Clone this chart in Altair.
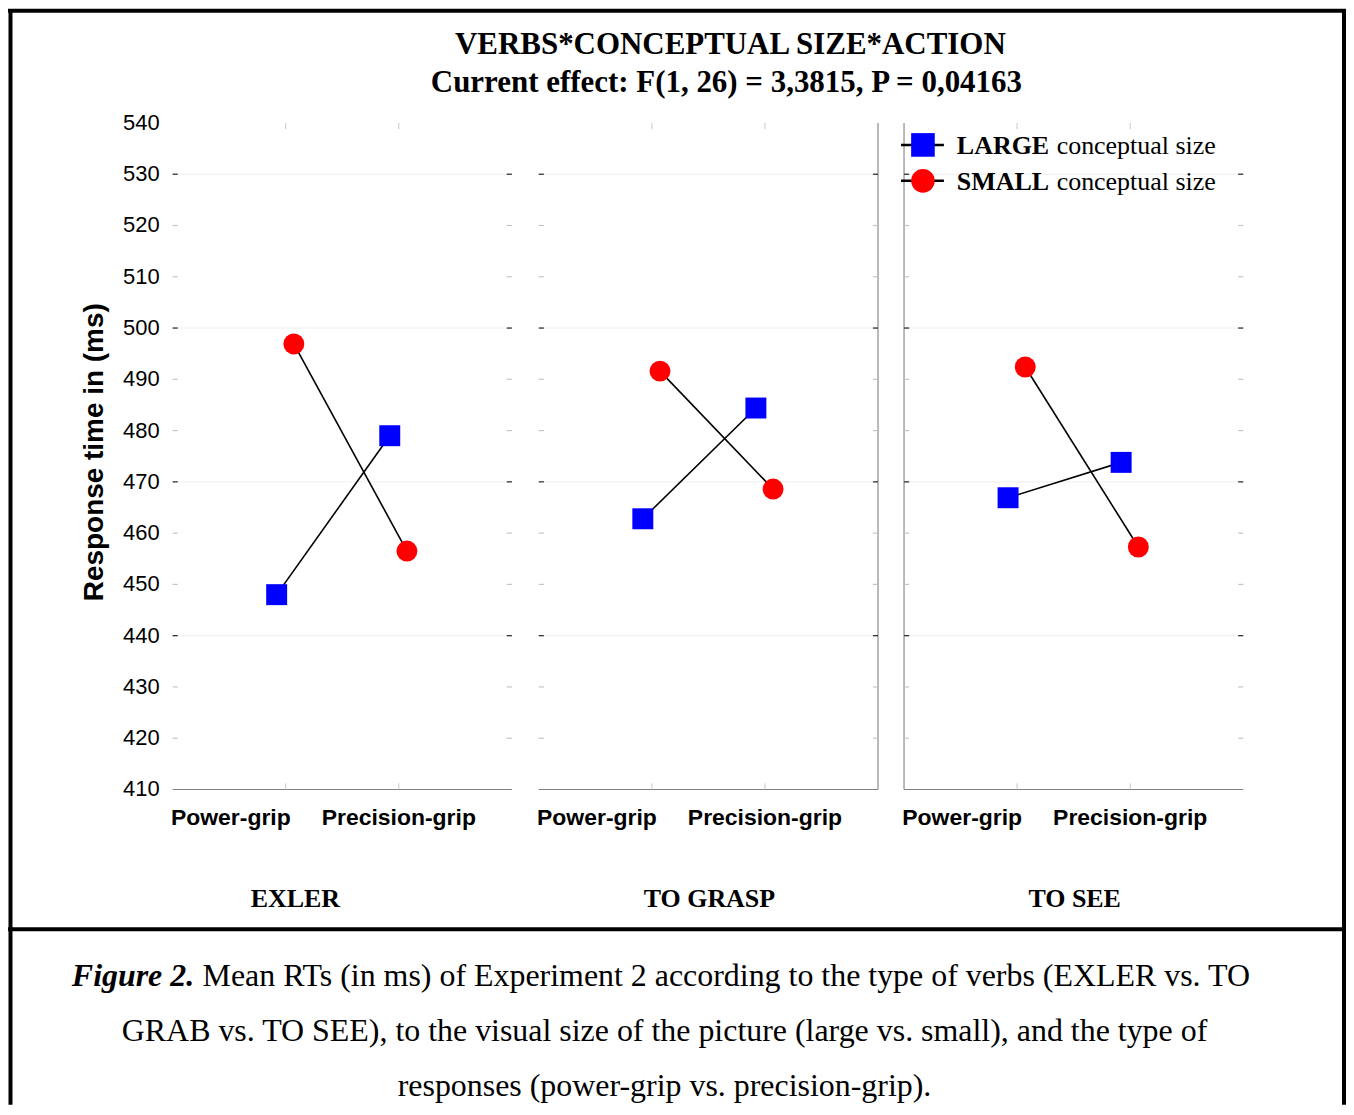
import altair as alt
import pandas as pd

# ---------------- data ----------------
verbs = ["EXLER", "TO GRASP", "TO SEE"]
responses = ["Power-grip", "Precision-grip"]
size_levels = ["LARGE", "SMALL"]
large_rt = [[448.0, 479.0], [462.8, 484.4], [466.9, 473.8]]   # per verb: power, precision
small_rt = [[496.9, 456.5], [491.6, 468.6], [492.4, 457.3]]
y_ticks = [410, 420, 430, 440, 450, 460, 470, 480, 490, 500, 510, 520, 530, 540]
major_ticks = [440, 470, 500, 530]
minor_ticks = [420, 430, 450, 460, 480, 490, 510, 520]
title_lines = ["VERBS*CONCEPTUAL SIZE*ACTION",
               "Current effect: F(1, 26) = 3,3815, P = 0,04163"]
y_title = "Response time in (ms)"
legend_rest = "conceptual size"
caption_lead = "Figure 2."
caption_lines = [
    "Mean RTs (in ms) of Experiment 2 according to the type of verbs (EXLER vs. TO",
    "GRAB vs. TO SEE), to the visual size of the picture (large vs. small), and the type of",
    "responses (power-grip vs. precision-grip).",
]

# ---------------- layout ----------------
W, H = 1341, 1098
PX_UNIT = 113.333
AXIS_X = 165
X_DOMAIN = [-AXIS_X / PX_UNIT, (W - AXIS_X) / PX_UNIT]
PX_Y = 668 / 130
Y_TOP = 114
Y_DOMAIN = [540 - (H - Y_TOP) / PX_Y, 540 + Y_TOP / PX_Y]
PANEL_LEFT = [0.0, 3.238, 6.468]
PANEL_W = 3.0
CAT_POS = [1.0, 2.0]
SIZE_SHIFT = {"LARGE": -0.08, "SMALL": 0.072}
VERB_LABEL_POS = [1.085, 1.509, 1.509]
TICK_LEN = 0.045

SANS = "Liberation Sans"
SERIF = "Liberation Serif"

xscale = alt.Scale(domain=X_DOMAIN, nice=False, zero=False)
yscale = alt.Scale(domain=Y_DOMAIN, nice=False, zero=False)


def X(f):
    return alt.X(f, type="quantitative", scale=xscale, axis=None)


def Y(f):
    return alt.Y(f, type="quantitative", scale=yscale, axis=None)


# ---------------- tables ----------------
rows = []
for i, verb in enumerate(verbs):
    for j, resp in enumerate(responses):
        for sz, vals in (("LARGE", large_rt), ("SMALL", small_rt)):
            rows.append(dict(verb=verb, response=resp, size=sz, rt=vals[i][j],
                             x=PANEL_LEFT[i] + CAT_POS[j] + SIZE_SHIFT[sz],
                             series=verb + "-" + sz))
pts = pd.DataFrame(rows)

panels = pd.DataFrame(dict(left=PANEL_LEFT,
                           right=[p + PANEL_W for p in PANEL_LEFT],
                           y0=[410] * 3))

seps = pd.DataFrame(dict(x=[PANEL_LEFT[1] + PANEL_W, PANEL_LEFT[2]], y0=[410, 410], y1=[540, 540]))


def tick_table(values):
    r = []
    for p in PANEL_LEFT:
        for v in values:
            r.append(dict(x=p, x2=p + TICK_LEN, y=v))
            r.append(dict(x=p + PANEL_W - TICK_LEN, x2=p + PANEL_W, y=v))
    return pd.DataFrame(r)


maj = tick_table(major_ticks)
mnr = tick_table(minor_ticks)
grid = pd.DataFrame([dict(x=p, x2=p + PANEL_W, y=v) for p in PANEL_LEFT for v in major_ticks])

cat_ticks = []
for p in PANEL_LEFT:
    for c in CAT_POS:
        cat_ticks.append(dict(x=p + c, y0=540, y1=538.8))
        cat_ticks.append(dict(x=p + c, y0=410, y1=411.2))
cat_ticks = pd.DataFrame(cat_ticks)

ylab = pd.DataFrame(dict(y=y_ticks, x=[PANEL_LEFT[0]] * len(y_ticks),
                         text=[str(v) for v in y_ticks]))

xlab = pd.DataFrame([dict(x=p + CAT_POS[j], y0=410, text=responses[j], j=j)
                     for p in PANEL_LEFT for j in range(2)])
verb_lab = pd.DataFrame(dict(x=[p + o for p, o in zip(PANEL_LEFT, VERB_LABEL_POS)],
                             y0=[410] * 3, text=verbs))

one = pd.DataFrame({"k": [0]})
base1 = alt.Chart(one)

layers = []

# frame
layers.append(base1.mark_rule(color="black", strokeWidth=4).encode(
    x=alt.value(2.5), y=alt.value(0), y2=alt.value(H)))
layers.append(base1.mark_rule(color="black", strokeWidth=4).encode(
    x=alt.value(0), x2=alt.value(W), y=alt.value(1.5)))
layers.append(base1.mark_rule(color="black", strokeWidth=4).encode(
    x=alt.value(1339), y=alt.value(0), y2=alt.value(H)))
layers.append(base1.mark_rule(color="black", strokeWidth=4).encode(
    x=alt.value(0), x2=alt.value(W), y=alt.value(922)))

# faint grid
layers.append(alt.Chart(grid).mark_rule(color="#eeeeee", strokeWidth=1).encode(
    x=X("x"), x2="x2", y=Y("y")))
# panel baselines
layers.append(alt.Chart(panels).mark_rule(color="#808080", strokeWidth=1.2).encode(
    x=X("left"), x2="right", y=Y("y0")))
# vertical separators
layers.append(alt.Chart(seps).mark_rule(color="#8c8c8c", strokeWidth=1.2).encode(
    x=X("x"), y=Y("y0"), y2="y1"))
# edge ticks
layers.append(alt.Chart(maj).mark_rule(color="#333333", strokeWidth=1.3).encode(
    x=X("x"), x2="x2", y=Y("y")))
layers.append(alt.Chart(mnr).mark_rule(color="#c4c4c4", strokeWidth=1.2).encode(
    x=X("x"), x2="x2", y=Y("y")))
layers.append(alt.Chart(cat_ticks).mark_rule(color="#c8c8c8", strokeWidth=1).encode(
    x=X("x"), y=Y("y0"), y2="y1"))

# y tick labels (through the y scale)
layers.append(alt.Chart(ylab).mark_text(
    font=SANS, fontSize=22, color="black", align="right", baseline="middle", dx=-13).encode(
    x=X("x"), y=Y("y"), text="text:N"))

# y title
layers.append(base1.mark_text(font=SANS, fontSize=28, fontWeight="bold", color="black",
                              align="center", baseline="middle", angle=270).encode(
    x=alt.value(87), y=alt.value(444), text=alt.value(y_title)))

# lines
layers.append(alt.Chart(pts).mark_line(color="black", strokeWidth=1.6).encode(
    x=X("x"), y=Y("rt"), detail="series:N"))

# points
layers.append(alt.Chart(pts).mark_point(filled=True, size=441, opacity=1, strokeWidth=0).encode(
    x=X("x"),
    y=Y("rt"),
    shape=alt.Shape("size:N", scale=alt.Scale(domain=size_levels, range=["square", "circle"]), legend=None),
    color=alt.Color("size:N", scale=alt.Scale(domain=size_levels, range=["#0000ff", "#ff0000"]), legend=None),
))

# x category labels
layers.append(alt.Chart(xlab[xlab.j == 0]).mark_text(
    font=SANS, fontSize=23, fontWeight="bold", color="black", align="right", baseline="alphabetic",
    dx=5, dy=36).encode(x=X("x"), y=Y("y0"), text="text:N"))
layers.append(alt.Chart(xlab[xlab.j == 1]).mark_text(
    font=SANS, fontSize=23, fontWeight="bold", color="black", align="center", baseline="alphabetic",
    dy=36).encode(x=X("x"), y=Y("y0"), text="text:N"))
# verb labels
layers.append(alt.Chart(verb_lab).mark_text(
    font=SERIF, fontSize=26, fontWeight="bold", color="black", align="center", baseline="alphabetic",
    dy=118).encode(x=X("x"), y=Y("y0"), text="text:N"))

# titles
layers.append(base1.mark_text(font=SERIF, fontSize=31, fontWeight="bold", color="black",
                              align="center", baseline="alphabetic").encode(
    x=alt.value(724), y=alt.value(45), text=alt.value(title_lines[0])))
layers.append(base1.mark_text(font=SERIF, fontSize=31, fontWeight="bold", color="black",
                              align="center", baseline="alphabetic").encode(
    x=alt.value(720), y=alt.value(83), text=alt.value(title_lines[1])))

# legend
for sz, shp, col, ly in [("LARGE", "square", "#0000ff", 136),
                         ("SMALL", "circle", "#ff0000", 172)]:
    layers.append(base1.mark_rule(color="black", strokeWidth=2.5).encode(
        x=alt.value(895), x2=alt.value(938), y=alt.value(ly)))
    layers.append(base1.mark_point(filled=True, size=560, opacity=1, strokeWidth=0, shape=shp,
                                   color=col).encode(x=alt.value(917), y=alt.value(ly)))
    layers.append(base1.mark_text(font=SERIF, fontSize=26, fontWeight="bold", color="black",
                                  align="left", baseline="alphabetic").encode(
        x=alt.value(951), y=alt.value(ly + 9), text=alt.value(sz)))
    layers.append(base1.mark_text(font=SERIF, fontSize=26, color="black",
                                  align="left", baseline="alphabetic").encode(
        x=alt.value(1051), y=alt.value(ly + 9), text=alt.value(legend_rest)))

# caption
layers.append(base1.mark_text(font=SERIF, fontSize=32, fontWeight="bold", fontStyle="italic",
                              color="black", align="left", baseline="alphabetic").encode(
    x=alt.value(64), y=alt.value(979), text=alt.value(caption_lead)))
layers.append(base1.mark_text(font=SERIF, fontSize=32, color="black", align="left",
                              baseline="alphabetic").encode(
    x=alt.value(195), y=alt.value(979), text=alt.value(caption_lines[0])))
layers.append(base1.mark_text(font=SERIF, fontSize=32, color="black", align="center",
                              baseline="alphabetic").encode(
    x=alt.value(658), y=alt.value(1034), text=alt.value(caption_lines[1])))
layers.append(base1.mark_text(font=SERIF, fontSize=32, color="black", align="center",
                              baseline="alphabetic").encode(
    x=alt.value(658), y=alt.value(1089), text=alt.value(caption_lines[2])))

chart = alt.layer(*layers).properties(
    width=W, height=H, autosize=alt.AutoSizeParams(type="none"), padding=0,
    background="white",
).configure_view(strokeWidth=0)

chart.save("out.html", embed_options={"renderer": "svg", "actions": False})
